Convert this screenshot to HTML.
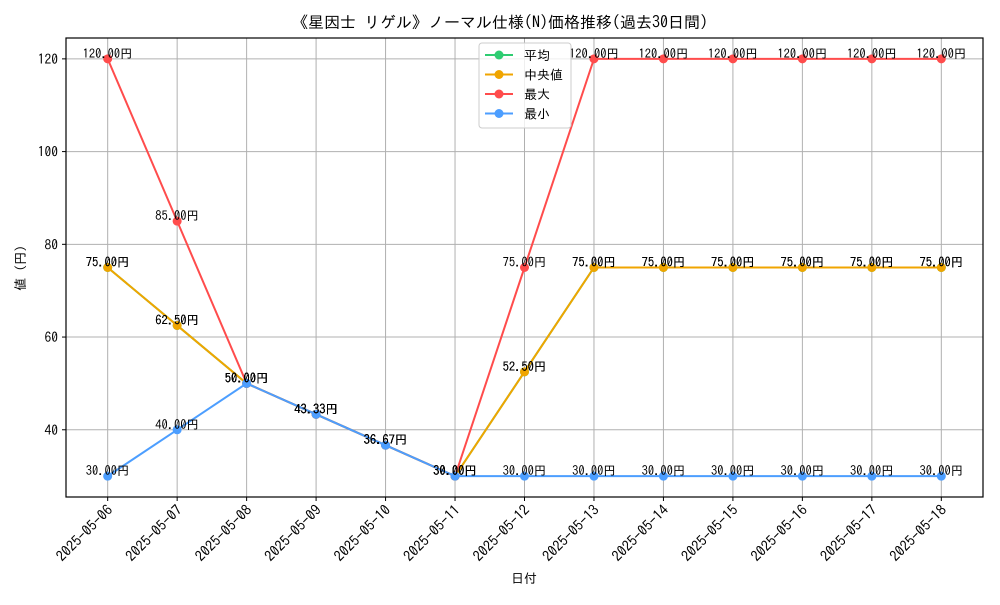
<!DOCTYPE html>
<html><head><meta charset="utf-8"><style>
body{margin:0;background:#fff}
svg text{font-family:"IPAGothic","Noto Sans CJK JP",sans-serif;fill:#000}
</style></head><body>
<svg id="c" width="1000" height="600" xmlns="http://www.w3.org/2000/svg">
<rect width="1000" height="600" fill="#fff"/>
<text x="500" y="28" font-size="16" text-anchor="middle">《星因士 リゲル》ノーマル仕様(N)価格推移(過去30日間)</text>
<g id="grid"></g><g id="series"></g><g id="labels"></g>
<rect x="66" y="38" width="917" height="459" fill="none" stroke="#000" stroke-width="1.2"/>
<g id="axes"></g>
<text x="524" y="583" font-size="13" text-anchor="middle">日付</text>
<text transform="translate(25,268) rotate(-90)" font-size="13" text-anchor="middle">値 (円)</text>
<g id="legend"></g>
</svg>
<script>
const categories=["2025-05-06","2025-05-07","2025-05-08","2025-05-09","2025-05-10","2025-05-11","2025-05-12","2025-05-13","2025-05-14","2025-05-15","2025-05-16","2025-05-17","2025-05-18"];
const avgValues=[75,62.5,50,43.33,36.67,30,52.5,75,75,75,75,75,75];
const medianValues=[75,62.5,50,43.33,36.67,30,52.5,75,75,75,75,75,75];
const maxValues=[120,85,50,43.33,36.67,30,75,120,120,120,120,120,120];
const minValues=[30,40,50,43.33,36.67,30,30,30,30,30,30,30,30];
const yTicks=[40,60,80,100,120];
const seriesNames=["平均","中央値","最大","最小"];
const NS="http://www.w3.org/2000/svg";
const L=66,R=983,T=38,B=497,yMin=25.5,yMax=124.5;
const n=categories.length;
const step=(R-L)/(n-1+0.1*(n-1));
const xS=i=>L+0.05*(n-1)*step+i*step;
const yS=v=>B-(v-yMin)/(yMax-yMin)*(B-T);
function mk(tag,attrs,parent){const e=document.createElementNS(NS,tag);for(const k in attrs)e.setAttribute(k,attrs[k]);parent.appendChild(e);return e;}
const grid=document.getElementById('grid'),axes=document.getElementById('axes');
categories.forEach((c,i)=>{
  const x=xS(i);
  const g=mk('line',{x1:x,x2:x,y1:T,y2:B,stroke:'#b0b0b0','stroke-width':1},grid);
  
  
  const t=mk('line',{x1:x,x2:x,y1:B,y2:B+4,stroke:'#000'},axes);
  
  
  const lb=mk('text',{x:x+6,y:B+14,'font-size':14.5,'text-anchor':'end',transform:`rotate(-45 ${x+6} ${B+14})`},axes);
  lb.textContent=c;
  
  
});
yTicks.forEach(v=>{
  const y=yS(v);
  const g=mk('line',{x1:L,x2:R,y1:y,y2:y,stroke:'#b0b0b0','stroke-width':1},grid);
  
  
  const t=mk('line',{x1:L-4,x2:L,y1:y,y2:y,stroke:'#000'},axes);
  
  
  const lb=mk('text',{x:L-8,y:y+5,'font-size':13.5,'text-anchor':'end'},axes);
  lb.textContent=v;
  
  
});
const colors=["#2ecc71","#f0a500","#ff4c4c","#4c9eff"];
const data=[avgValues,medianValues,maxValues,minValues];
const keys=["average","median","max","min"];
const sg=document.getElementById('series'),lg=document.getElementById('labels');
data.forEach((vals,s)=>{
  const p=mk('polyline',{points:vals.map((v,i)=>xS(i)+','+yS(v)).join(' '),fill:'none',stroke:colors[s],'stroke-width':2},sg);
  
  
  vals.forEach((v,i)=>{
    const c=mk('circle',{cx:xS(i),cy:yS(v),r:4.5,fill:colors[s]},sg);
    
    
    const t=mk('text',{x:xS(i),y:yS(v)-1,'font-size':12.5,'text-anchor':'middle'},lg);
    t.textContent=v.toFixed(2)+'円';
    
    
  });
});
const leg=document.getElementById('legend');
mk('rect',{x:479,y:43,width:92,height:85,fill:'#fff','fill-opacity':0.8,stroke:'#ccc',rx:3},leg);
seriesNames.forEach((nm,s)=>{
  const y=55+s*19.5;
  const l=mk('line',{x1:485,x2:513,y1:y,y2:y,stroke:colors[s],'stroke-width':2},leg);
  
  
  const c=mk('circle',{cx:499,cy:y,r:4.5,fill:colors[s]},leg);
  
  
  const t=mk('text',{x:524,y:y+5,'font-size':13},leg);
  t.textContent=nm;
  
  
});
</script>
</body></html>
